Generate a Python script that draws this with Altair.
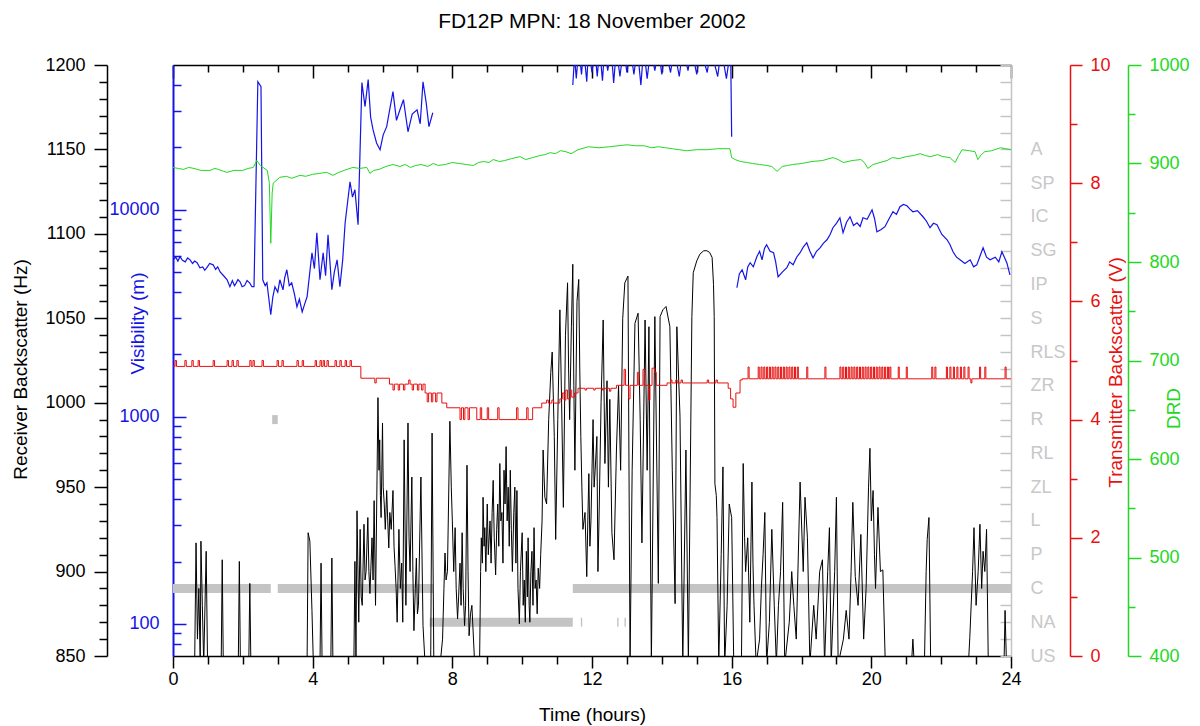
import altair as alt
import pandas as pd

FONT = "Liberation Sans"
BLUE = "#1414e6"
RED = "#e81010"
GREEN = "#22d822"
GREY = "#c4c4c4"
GREY_TEXT = "#c8c8c8"

W, H = 838, 591

# Receiver backscatter (Hz); 845 stands for readings below the 850 Hz floor of the axis
receiver = [
    (0.00, 845), (0.62, 845), (0.66, 917), (0.70, 860), (0.74, 890), (0.78, 845), (0.80, 918),
    (0.84, 880), (0.88, 845), (0.95, 912), (0.99, 845), (1.38, 845), (1.41, 907), (1.44, 845),
    (1.87, 845), (1.90, 906), (1.93, 845), (2.17, 845), (2.20, 893), (2.23, 845), (3.84, 845),
    (3.87, 923), (3.92, 918), (3.98, 877), (4.02, 845), (4.21, 845), (4.24, 905), (4.27, 845),
    (4.52, 845), (4.55, 908), (4.58, 845), (5.18, 845), (5.21, 906), (5.24, 850), (5.27, 936),
    (5.32, 870), (5.36, 925), (5.39, 885), (5.42, 880), (5.47, 928), (5.50, 895), (5.53, 900),
    (5.58, 932), (5.61, 900), (5.64, 887), (5.70, 920), (5.73, 895), (5.76, 942), (5.80, 880),
    (5.87, 1003), (5.90, 960), (5.92, 978), (5.94, 945), (5.96, 932), (6.00, 988), (6.02, 950),
    (6.05, 940), (6.08, 925), (6.12, 948), (6.15, 930), (6.18, 914), (6.21, 935), (6.25, 925),
    (6.30, 948), (6.33, 915), (6.36, 903), (6.39, 890), (6.42, 870), (6.47, 925), (6.51, 890),
    (6.55, 905), (6.58, 870), (6.62, 978), (6.67, 880), (6.73, 988), (6.76, 920), (6.79, 900),
    (6.84, 956), (6.87, 900), (6.90, 865), (6.94, 890), (6.97, 908), (7.00, 875), (7.03, 880),
    (7.10, 956), (7.16, 868), (7.22, 845), (7.38, 845), (7.42, 982), (7.47, 845), (7.65, 845),
    (7.72, 860), (7.76, 890), (7.79, 911), (7.82, 895), (7.86, 900), (7.93, 989), (7.97, 950),
    (8.00, 930), (8.04, 900), (8.08, 926), (8.11, 890), (8.15, 872), (8.18, 885), (8.22, 905),
    (8.25, 880), (8.28, 923), (8.31, 890), (8.35, 868), (8.38, 880), (8.42, 963), (8.45, 900),
    (8.48, 862), (8.52, 875), (8.56, 880), (8.64, 845), (8.78, 845), (8.81, 900), (8.83, 920),
    (8.86, 905), (8.88, 944), (8.91, 915), (8.93, 926), (8.96, 900), (9.00, 940), (9.03, 910),
    (9.08, 930), (9.11, 905), (9.14, 935), (9.17, 954), (9.20, 920), (9.24, 898), (9.27, 925),
    (9.30, 940), (9.33, 915), (9.36, 964), (9.39, 930), (9.42, 935), (9.45, 905), (9.48, 960),
    (9.51, 940), (9.54, 974), (9.57, 930), (9.60, 950), (9.63, 915), (9.66, 960), (9.69, 925),
    (9.72, 900), (9.76, 935), (9.79, 950), (9.82, 905), (9.85, 948), (9.88, 890), (9.92, 869),
    (9.95, 900), (10.00, 923), (10.03, 880), (10.06, 895), (10.09, 870), (10.12, 912),
    (10.15, 885), (10.17, 920), (10.20, 880), (10.22, 870), (10.25, 900), (10.28, 912),
    (10.31, 880), (10.34, 926), (10.37, 890), (10.40, 895), (10.43, 875), (10.46, 902),
    (10.50, 890), (10.53, 910), (10.57, 930), (10.60, 972), (10.65, 944), (10.70, 940),
    (10.76, 990), (10.82, 1018), (10.86, 1030), (10.92, 980), (10.96, 919), (11.02, 990),
    (11.08, 1055), (11.13, 1000), (11.18, 938), (11.24, 1040), (11.30, 1071), (11.33, 1020),
    (11.36, 990), (11.41, 1045), (11.45, 1082), (11.48, 1010), (11.51, 960), (11.57, 1060),
    (11.62, 1073), (11.65, 1020), (11.68, 980), (11.71, 950), (11.74, 925), (11.80, 935),
    (11.85, 897), (11.88, 930), (11.91, 958), (11.94, 915), (11.97, 930), (12.03, 990),
    (12.06, 950), (12.09, 960), (12.14, 980), (12.17, 900), (12.20, 930), (12.26, 1000),
    (12.32, 1049), (12.37, 964), (12.43, 1013), (12.47, 950), (12.51, 1002), (12.57, 923),
    (12.63, 907), (12.70, 972), (12.76, 1010), (12.82, 960), (12.88, 1050), (12.94, 1071),
    (13.03, 1075), (13.09, 845), (13.15, 960), (13.23, 1047), (13.32, 1053), (13.38, 990),
    (13.43, 917), (13.52, 1049), (13.58, 960), (13.63, 1045), (13.70, 845), (13.80, 1051),
    (13.90, 893), (13.95, 1051), (14.03, 1055), (14.12, 1057), (14.23, 1045), (14.30, 960),
    (14.38, 881), (14.43, 1045), (14.52, 992), (14.60, 845), (14.69, 972), (14.76, 845),
    (14.86, 1051), (14.90, 1077), (15.00, 1084), (15.09, 1088), (15.20, 1090), (15.29, 1090),
    (15.37, 1089), (15.44, 1086), (15.48, 1070), (15.50, 1051), (15.52, 952), (15.56, 945),
    (15.58, 932), (15.63, 845), (15.70, 910), (15.75, 962), (15.80, 845), (15.87, 880),
    (15.93, 940), (16.00, 932), (16.06, 845), (16.28, 845), (16.33, 964), (16.37, 920),
    (16.40, 900), (16.46, 920), (16.52, 870), (16.58, 953), (16.61, 905), (16.64, 880),
    (16.70, 845), (16.80, 860), (16.85, 890), (16.90, 910), (16.95, 935), (17.00, 845),
    (17.08, 870), (17.15, 925), (17.22, 880), (17.28, 845), (17.34, 880), (17.40, 900),
    (17.46, 941), (17.52, 845), (17.65, 870), (17.72, 900), (17.78, 880), (17.85, 860),
    (17.96, 953), (18.05, 900), (18.10, 944), (18.17, 920), (18.24, 845), (18.35, 880),
    (18.42, 860), (18.52, 900), (18.60, 907), (18.66, 845), (18.75, 900), (18.80, 926),
    (18.85, 845), (18.95, 900), (19.00, 944), (19.05, 845), (19.20, 860), (19.28, 877),
    (19.36, 860), (19.42, 900), (19.47, 941), (19.54, 897), (19.62, 880), (19.70, 922),
    (19.78, 860), (19.85, 890), (19.92, 950), (19.96, 973), (20.00, 930), (20.05, 948),
    (20.09, 910), (20.12, 890), (20.19, 938), (20.26, 900), (20.33, 901), (20.40, 845),
    (21.15, 845), (21.19, 860), (21.23, 845), (21.52, 845), (21.57, 900), (21.60, 919),
    (21.65, 932), (21.70, 845), (22.78, 845), (22.82, 861), (22.90, 900), (22.94, 926),
    (23.00, 880), (23.06, 900), (23.11, 928), (23.16, 890), (23.20, 912), (23.25, 900),
    (23.30, 925), (23.35, 845), (23.80, 845), (23.83, 877), (23.87, 845), (24.00, 845),
]

# Visibility (m) in three recorded stretches; values above 50000 m run off the top
visibility_early = [
    (0.00, 5730), (0.08, 5900), (0.14, 5650), (0.20, 5930), (0.27, 5700), (0.35, 5600),
    (0.42, 5850), (0.49, 5730), (0.56, 5500), (0.62, 5650), (0.69, 5550), (0.77, 5250),
    (0.85, 5300), (0.91, 5100), (0.97, 5250), (1.05, 5500), (1.15, 5420), (1.22, 5150),
    (1.28, 5300), (1.35, 5010), (1.45, 4800), (1.55, 4590), (1.63, 4250), (1.70, 4550),
    (1.76, 4300), (1.80, 4400), (1.86, 4600), (1.92, 4490), (1.98, 4250), (2.05, 4300),
    (2.12, 4550), (2.20, 4420), (2.26, 4250), (2.32, 4250), (2.43, 41500), (2.52, 39300),
    (2.57, 4590), (2.64, 4300), (2.69, 4440), (2.80, 3110), (2.86, 3800), (2.92, 4250),
    (3.00, 4000), (3.06, 4590), (3.15, 4100), (3.20, 4700), (3.26, 5130), (3.33, 4300),
    (3.40, 4440), (3.48, 3900), (3.55, 3400), (3.62, 3700), (3.70, 3210), (3.77, 3500),
    (3.84, 3800), (3.98, 6200), (4.05, 5200), (4.12, 7740), (4.21, 4590), (4.30, 6200),
    (4.37, 4800), (4.44, 7570), (4.55, 4110), (4.62, 5000), (4.70, 5730), (4.78, 4250),
    (4.86, 5730), (4.93, 8650), (5.07, 13650), (5.14, 11500), (5.21, 12490), (5.30, 8470),
    (5.41, 41100), (5.50, 31500), (5.59, 42500), (5.66, 28000), (5.73, 24300), (5.83, 21000),
    (5.93, 19500), (6.02, 23000), (6.12, 25200), (6.20, 30000), (6.30, 37200), (6.40, 27000),
    (6.50, 30400), (6.60, 34000), (6.73, 23800), (6.85, 29000), (6.99, 30400), (7.08, 26000),
    (7.16, 41500), (7.25, 33000), (7.33, 25200), (7.44, 29400),
]
visibility_midday = [
    (11.45, 40000), (11.50, 55000), (11.55, 43000), (11.62, 60000), (11.70, 45000),
    (11.76, 60000), (11.85, 41500), (11.90, 60000), (12.00, 46000), (12.08, 60000),
    (12.15, 44000), (12.22, 60000), (12.30, 42000), (12.36, 60000), (12.45, 47000),
    (12.55, 60000), (12.62, 41000), (12.70, 60000), (12.80, 44000), (12.90, 60000),
    (13.00, 46000), (13.10, 60000), (13.20, 45000), (13.30, 60000), (13.40, 40000),
    (13.48, 60000), (13.58, 43000), (13.68, 60000), (13.80, 47000), (13.90, 60000),
    (14.00, 45000), (14.10, 60000), (14.25, 46000), (14.35, 60000), (14.50, 44000),
    (14.60, 60000), (14.75, 47000), (14.85, 60000), (15.00, 45000), (15.10, 60000),
    (15.30, 46000), (15.40, 60000), (15.60, 44000), (15.70, 60000), (15.85, 43000),
    (15.97, 60000), (16.00, 22500),
]
visibility_late = [
    (16.15, 4200), (16.22, 4900), (16.30, 5130), (16.40, 4590), (16.46, 5300), (16.53, 5550),
    (16.62, 5300), (16.72, 5930), (16.80, 6300), (16.87, 5730), (16.94, 6500), (17.00, 6780),
    (17.10, 6300), (17.20, 6200), (17.26, 5600), (17.33, 4740), (17.45, 5000), (17.58, 5250),
    (17.66, 5600), (17.76, 5420), (17.86, 5900), (17.96, 6200), (18.05, 6600), (18.15, 6930),
    (18.24, 6300), (18.33, 5860), (18.43, 6300), (18.53, 6550), (18.63, 6900), (18.73, 7160),
    (18.82, 7600), (18.90, 8190), (19.00, 8600), (19.10, 9150), (19.19, 7740), (19.29, 8700),
    (19.39, 9250), (19.49, 8400), (19.59, 8650), (19.68, 8300), (19.76, 9150), (19.88, 9000),
    (20.02, 10000), (20.09, 9100), (20.16, 7830), (20.27, 8000), (20.39, 8280), (20.50, 9000),
    (20.62, 9780), (20.72, 9500), (20.82, 10340), (20.92, 10600), (21.02, 10450),
    (21.10, 10100), (21.19, 9780), (21.32, 9900), (21.48, 9250), (21.58, 8800), (21.68, 8190),
    (21.78, 8600), (21.88, 8470), (22.02, 7600), (22.17, 7160), (22.25, 6800), (22.34, 6270),
    (22.44, 5900), (22.54, 5730), (22.68, 5500), (22.83, 5730), (22.93, 5300), (23.02, 5420),
    (23.10, 5900), (23.20, 6550), (23.30, 5900), (23.40, 5730), (23.55, 5900), (23.65, 5600),
    (23.74, 6270), (23.88, 5550), (23.97, 4850),
]

# Transmitter backscatter (V), recorded as steps
transmitter = [
    (0.00, 4.9), (0.06, 5.0), (0.10, 4.9), (0.34, 5.0), (0.38, 4.9), (0.54, 5.0), (0.58, 4.9),
    (0.72, 5.0), (0.76, 4.9), (1.15, 5.0), (1.19, 4.9), (1.55, 5.0), (1.59, 4.9), (1.69, 5.0),
    (1.73, 4.9), (1.83, 5.0), (1.87, 4.9), (2.20, 5.0), (2.24, 4.9), (2.29, 5.0), (2.33, 4.9),
    (2.55, 5.0), (2.59, 4.9), (2.98, 5.0), (3.02, 4.9), (3.12, 5.0), (3.16, 4.9), (3.55, 5.0),
    (3.59, 4.9), (3.70, 5.0), (3.74, 4.9), (4.07, 5.0), (4.11, 4.9), (4.21, 5.0), (4.25, 4.9),
    (4.30, 5.0), (4.34, 4.9), (4.41, 5.0), (4.45, 4.9), (4.64, 5.0), (4.68, 4.9), (4.78, 5.0),
    (4.82, 4.9), (4.93, 5.0), (4.97, 4.9), (5.07, 5.0), (5.11, 4.9),
    (5.38, 4.7), (5.78, 4.62), (5.82, 4.7), (6.20, 4.6), (6.30, 4.5), (6.34, 4.6), (6.45, 4.5),
    (6.49, 4.6), (6.60, 4.5), (6.64, 4.6), (6.75, 4.67), (6.79, 4.6), (6.85, 4.5), (6.89, 4.6),
    (7.00, 4.5), (7.04, 4.6), (7.12, 4.5), (7.16, 4.6), (7.22, 4.45), (7.28, 4.3), (7.32, 4.45),
    (7.40, 4.3), (7.44, 4.45), (7.52, 4.3), (7.56, 4.45), (7.70, 4.28), (7.84, 4.2),
    (8.22, 4.0), (8.26, 4.2), (8.32, 4.0), (8.36, 4.2), (8.45, 4.0), (8.49, 4.2), (8.70, 4.0),
    (8.80, 4.2), (8.84, 4.0), (9.00, 4.2), (9.04, 4.0), (9.30, 4.2), (9.34, 4.0), (9.84, 4.2),
    (9.88, 4.0), (10.13, 4.2), (10.17, 4.0), (10.30, 4.2), (10.56, 4.28), (10.70, 4.33),
    (10.75, 4.28), (10.85, 4.33), (10.90, 4.28), (11.08, 4.35), (11.15, 4.45), (11.20, 4.33),
    (11.25, 4.5), (11.30, 4.35), (11.38, 4.5), (11.42, 4.38), (11.50, 4.45), (11.60, 4.53),
    (11.80, 4.5), (11.84, 4.53), (12.05, 4.5), (12.09, 4.53), (12.30, 4.5), (12.34, 4.53),
    (12.50, 4.48), (12.54, 4.53), (12.70, 4.58), (12.92, 4.85), (12.96, 4.58), (13.05, 4.35),
    (13.09, 4.58), (13.30, 4.8), (13.34, 4.58), (13.46, 4.85), (13.50, 4.58), (13.62, 4.33),
    (13.66, 4.58), (13.72, 4.87), (13.80, 4.8), (13.84, 4.58), (14.15, 4.62), (14.25, 4.67),
    (14.29, 4.62), (14.40, 4.67), (14.44, 4.62), (14.55, 4.67), (14.59, 4.62), (15.30, 4.67),
    (15.34, 4.62), (15.55, 4.67), (15.59, 4.62), (15.90, 4.53), (15.97, 4.35), (16.04, 4.21),
    (16.12, 4.45), (16.24, 4.67), (16.30, 4.69),
    (16.47, 4.89), (16.50, 4.69), (16.76, 4.89), (16.79, 4.69), (16.84, 4.89), (16.87, 4.69),
    (16.92, 4.89), (16.95, 4.69), (17.00, 4.89), (17.03, 4.69), (17.08, 4.89), (17.11, 4.69),
    (17.16, 4.89), (17.19, 4.69), (17.24, 4.89), (17.27, 4.69), (17.32, 4.89), (17.35, 4.69),
    (17.40, 4.89), (17.43, 4.69), (17.48, 4.89), (17.51, 4.69), (17.56, 4.89), (17.59, 4.69),
    (17.64, 4.89), (17.67, 4.69), (17.72, 4.89), (17.75, 4.69), (17.80, 4.89), (17.83, 4.69),
    (17.88, 4.89), (17.91, 4.69), (18.15, 4.89), (18.18, 4.69), (18.67, 4.89), (18.70, 4.69),
    (19.10, 4.89), (19.13, 4.69), (19.18, 4.89), (19.21, 4.69), (19.26, 4.89), (19.29, 4.69),
    (19.34, 4.89), (19.37, 4.69), (19.42, 4.89), (19.45, 4.69), (19.50, 4.89), (19.53, 4.69),
    (19.58, 4.89), (19.61, 4.69), (19.66, 4.89), (19.69, 4.69), (19.74, 4.89), (19.77, 4.69),
    (19.82, 4.89), (19.85, 4.69), (19.90, 4.89), (19.93, 4.69), (19.98, 4.89), (20.01, 4.69),
    (20.06, 4.89), (20.09, 4.69), (20.14, 4.89), (20.17, 4.69), (20.22, 4.89), (20.25, 4.69),
    (20.30, 4.89), (20.33, 4.69), (20.38, 4.89), (20.41, 4.69), (20.46, 4.89), (20.49, 4.69),
    (20.53, 4.89), (20.56, 4.69), (20.77, 4.89), (20.80, 4.69), (21.00, 4.89), (21.03, 4.69),
    (21.73, 4.89), (21.76, 4.69), (21.82, 4.89), (21.85, 4.69), (22.15, 4.89), (22.18, 4.69),
    (22.25, 4.89), (22.28, 4.69), (22.35, 4.89), (22.38, 4.69), (22.45, 4.89), (22.48, 4.69),
    (22.55, 4.89), (22.58, 4.69), (22.65, 4.89), (22.68, 4.69), (22.77, 4.89), (22.80, 4.69),
    (22.85, 4.62), (22.88, 4.69), (23.10, 4.89), (23.13, 4.69), (23.25, 4.89), (23.28, 4.69),
    (23.83, 4.89), (23.86, 4.69), (24.00, 4.69),
]

# DRD readings
drd = [
    (0.00, 896), (0.15, 895), (0.30, 894), (0.45, 896), (0.60, 895), (0.80, 893), (1.06, 893),
    (1.20, 895), (1.30, 894), (1.45, 892), (1.55, 891), (1.75, 893), (2.00, 893), (2.15, 895),
    (2.30, 896), (2.40, 903), (2.50, 898), (2.70, 893), (2.76, 880), (2.80, 819), (2.84, 870),
    (2.87, 880), (3.06, 886), (3.25, 887), (3.40, 885), (3.64, 888), (3.80, 887), (4.00, 889),
    (4.20, 890), (4.40, 891), (4.58, 888), (4.75, 891), (4.90, 893), (5.15, 896), (5.35, 895),
    (5.55, 896), (5.64, 890), (5.75, 893), (5.90, 894), (6.10, 897), (6.30, 899), (6.50, 897),
    (6.65, 899), (6.80, 896), (6.95, 898), (7.10, 899), (7.30, 897), (7.45, 900), (7.60, 898),
    (7.80, 899), (8.00, 901), (8.20, 900), (8.40, 899), (8.60, 898), (8.75, 901), (8.90, 902),
    (9.05, 901), (9.17, 904), (9.35, 902), (9.50, 903), (9.70, 905), (9.94, 907), (10.10, 904),
    (10.30, 906), (10.50, 908), (10.65, 909), (10.80, 911), (10.95, 910), (11.10, 913),
    (11.25, 912), (11.40, 910), (11.60, 914), (11.90, 917), (12.20, 916), (12.50, 917),
    (12.75, 918), (13.00, 919), (13.25, 918), (13.50, 918), (13.70, 916), (13.90, 917),
    (14.10, 916), (14.30, 915), (14.50, 914), (14.70, 913), (15.00, 914), (15.30, 914),
    (15.60, 915), (15.95, 915), (16.00, 906), (16.10, 904), (16.25, 902), (16.45, 901),
    (16.60, 900), (16.80, 899), (17.00, 898), (17.15, 897), (17.30, 892), (17.45, 897),
    (17.60, 898), (17.75, 899), (18.00, 900), (18.30, 902), (18.60, 903), (18.90, 906),
    (19.05, 904), (19.20, 901), (19.45, 903), (19.70, 904), (19.80, 901), (19.90, 895),
    (20.05, 899), (20.25, 901), (20.45, 903), (20.60, 906), (20.80, 905), (21.00, 907),
    (21.20, 908), (21.40, 910), (21.55, 908), (21.70, 907), (21.90, 909), (22.05, 907),
    (22.25, 906), (22.40, 901), (22.50, 908), (22.60, 914), (22.80, 913), (22.97, 912),
    (23.05, 904), (23.15, 909), (23.25, 912), (23.45, 913), (23.70, 916), (23.85, 915),
    (24.00, 914),
]

# Present-weather codes, bottom to top, and the intervals reported for each
weather_codes = ["US", "NA", "C", "P", "L", "ZL", "RL", "R", "ZR", "RLS",
                 "S", "IP", "SG", "IC", "SP", "A"]
weather_spans = [
    ("C", 0.00, 2.80), ("C", 3.00, 7.45), ("C", 11.45, 24.00),
    ("NA", 7.35, 11.45), ("NA", 11.68, 11.72), ("NA", 12.72, 12.76), ("NA", 12.93, 12.97),
    ("R", 2.84, 3.00),
]

hours_ticks = list(range(25))
hz_ticks = list(range(850, 1201, 10))
vis_ticks = [80, 90, 100, 200, 300, 400, 500, 600, 700, 800, 900, 1000, 2000, 3000, 4000,
             5000, 6000, 7000, 8000, 9000, 10000, 20000, 30000, 40000]
code_ticks = [i / 2 for i in range(36)]
volt_ticks = list(range(11))
drd_ticks = list(range(400, 1001, 50))

rx_df = pd.DataFrame(receiver, columns=["hour", "hz"])
vis_df = pd.concat([
    pd.DataFrame(visibility_early, columns=["hour", "vis"]).assign(seg=1),
    pd.DataFrame(visibility_midday, columns=["hour", "vis"]).assign(seg=2),
    pd.DataFrame(visibility_late, columns=["hour", "vis"]).assign(seg=3),
], ignore_index=True)
tx_df = pd.DataFrame(transmitter, columns=["hour", "volts"])
drd_df = pd.DataFrame(drd, columns=["hour", "drd"])
wx_df = pd.DataFrame(weather_spans, columns=["code", "start", "end"])
wx_df["level"] = wx_df["code"].map(weather_codes.index)


def sized(test, major, minor):
    return {"condition": {"test": test, "value": major}, "value": minor}


def x_enc(field, axis=None):
    scale = alt.Scale(domain=[0, 24], nice=False, zero=False)
    if axis is None:
        return alt.X(f"{field}:Q", scale=scale, axis=None)
    return alt.X(f"{field}:Q", scale=scale, axis=axis)


label_style = dict(labelFont=FONT, labelFontSize=18, grid=False, labelOverlap=False,
                   labelFlush=False, tickWidth=1.5, domainWidth=1.5)
title_style = dict(titleFont=FONT, titleFontSize=19, titleFontWeight="normal",
                   titleBaseline="middle", titleAlign="center")

hz_scale = alt.Scale(domain=[850, 1200], nice=False, zero=False)
vis_scale = alt.Scale(type="log", domain=[70, 50000], nice=False)
code_scale = alt.Scale(domain=[0, 17.5], nice=False, zero=False)
volt_scale = alt.Scale(domain=[0, 10], nice=False, zero=False)
drd_scale = alt.Scale(domain=[400, 1000], nice=False, zero=False)

# Present weather bands
weather = alt.Chart(wx_df).mark_rule(color=GREY, strokeWidth=9, strokeCap="butt").encode(
    x=x_enc("start"),
    x2="end:Q",
    y=alt.Y("level:Q", scale=code_scale, axis=alt.Axis(
        orient="right", offset=0, values=list(range(16)), ticks=False,
        labelExpr="[" + ",".join(f"'{c}'" for c in weather_codes) + "][datum.value]",
        labelColor=GREY_TEXT, labelPadding=19, labelAlign="left", domainColor=GREY,
        title=None, **label_style)),
)

# Inward ticks along the right edge for the weather-code axis
weather_ticks = alt.Chart(wx_df).mark_point(opacity=0).encode(
    x=x_enc("start"),
    y=alt.Y("level:Q", scale=code_scale, axis=alt.Axis(
        orient="left", offset=-W, values=code_ticks, labels=False, domain=False,
        tickSize=11, tickColor=GREY, title=None, **label_style)),
)

receiver_line = alt.Chart(rx_df).mark_line(color="black", strokeWidth=1, clip=True).encode(
    x=x_enc("hour", alt.Axis(
        orient="bottom", values=hours_ticks, format="d",
        labelExpr="datum.value % 4 === 0 ? datum.label : ''",
        tickSize=sized("datum.value % 4 === 0", 12, 8), tickColor="black",
        domainColor="black", labelColor="black", labelPadding=2,
        title="Time (hours)", titleColor="black", titleY=58, **title_style, **label_style)),
    y=alt.Y("hz:Q", scale=hz_scale, axis=alt.Axis(
        orient="left", offset=66, values=hz_ticks, format="d",
        labelExpr="datum.value % 50 === 0 ? datum.label : ''",
        tickSize=sized("datum.value % 50 === 0", 13, 8), tickColor="black",
        domainColor="black", labelColor="black", labelPadding=9,
        title="Receiver Backscatter (Hz)", titleColor="black", titleAngle=270,
        titleX=-87, titleY=304, **title_style, **label_style)),
)

visibility_line = alt.Chart(vis_df).mark_line(color=BLUE, strokeWidth=1.2, clip=True).encode(
    x=x_enc("hour"),
    y=alt.Y("vis:Q", scale=vis_scale, axis=alt.Axis(
        orient="left", offset=0, values=[100, 1000, 10000], format="d", ticks=False,
        labelColor=BLUE, labelPadding=14, domainColor=BLUE, domainWidth=2,
        title="Visibility (m)", titleColor=BLUE, titleAngle=270, titleX=-36, titleY=258,
        **title_style, **{k: v for k, v in label_style.items() if k != "domainWidth"})),
    detail="seg:N",
)

# Inward ticks for the visibility axis and for the top edge of the frame
frame_ticks = alt.Chart(vis_df).mark_point(opacity=0).encode(
    x=x_enc("hour", alt.Axis(
        orient="bottom", offset=-H, values=hours_ticks, labels=False,
        tickSize=sized("datum.value % 4 === 0", 13, 7), tickColor="black",
        domainColor="black", title=None, **label_style)),
    y=alt.Y("vis:Q", scale=vis_scale, axis=alt.Axis(
        orient="right", offset=-W, values=vis_ticks, labels=False, domain=False,
        tickSize=sized("datum.value == 100 || datum.value == 1000 || datum.value == 10000", 13, 8),
        tickColor=BLUE, title=None, **label_style)),
)

drd_line = alt.Chart(drd_df).mark_line(color=GREEN, strokeWidth=1).encode(
    x=x_enc("hour"),
    y=alt.Y("drd:Q", scale=drd_scale, axis=alt.Axis(
        orient="right", offset=117, values=drd_ticks, format="d",
        labelExpr="datum.value % 100 === 0 ? datum.label : ''",
        tickSize=sized("datum.value % 100 === 0", 13, 7), tickColor=GREEN,
        domainColor=GREEN, labelColor=GREEN, labelPadding=8,
        title="DRD", titleColor=GREEN, titleAngle=270, titleX=45, titleY=343,
        **title_style, **label_style)),
)

transmitter_line = alt.Chart(tx_df).mark_line(
    color=RED, strokeWidth=1, interpolate="step-after").encode(
    x=x_enc("hour"),
    y=alt.Y("volts:Q", scale=volt_scale, axis=alt.Axis(
        orient="right", offset=59, values=volt_ticks, format="d",
        labelExpr="datum.value % 2 === 0 ? datum.label : ''",
        tickSize=sized("datum.value % 2 === 0", 12, 7), tickColor=RED,
        domainColor=RED, labelColor=RED, labelPadding=8,
        title="Transmitter Backscatter (V)", titleColor=RED, titleAngle=270,
        titleX=45, titleY=307, **title_style, **label_style)),
)

chart = alt.layer(
    weather, weather_ticks, receiver_line, visibility_line, frame_ticks, drd_line,
    transmitter_line,
).resolve_scale(
    x="independent", y="independent"
).resolve_axis(
    x="independent", y="independent"
).properties(
    width=W,
    height=H,
    title=alt.TitleParams(
        "FD12P MPN: 18 November 2002", font=FONT, fontSize=21, fontWeight="normal",
        color="black", anchor="middle", offset=14),
    autosize=alt.AutoSizeParams(type="none"),
    padding={"left": 173, "top": 65, "right": 189, "bottom": 70},
    background="white",
).configure_view(strokeWidth=0)

chart.save("out.html", embed_options={"renderer": "svg", "actions": False})
